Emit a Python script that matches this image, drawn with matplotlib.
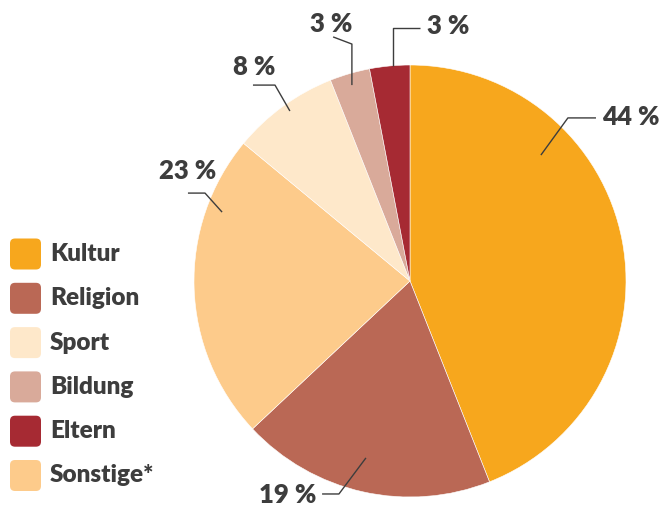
import matplotlib.pyplot as plt
from matplotlib.patches import FancyBboxPatch

# ── data ──
categories = ["Kultur", "Religion", "Sonstige*", "Sport", "Bildung", "Eltern"]
shares = [44, 19, 23, 8, 3, 3]
colors = ["#F7A71D", "#BA6855", "#FDCB8B", "#FEE8CA", "#D9AA9A", "#A62A33"]
legend_order = ["Kultur", "Religion", "Sport", "Bildung", "Eltern", "Sonstige*"]

TXT = "#3d3d3d"
plt.rcParams["font.family"] = ["Lato", "DejaVu Sans"]

W, H = 663, 509
CX, CY, R = 410, 281, 216  # pie centre / radius in pixels

fig = plt.figure(figsize=(W / 100, H / 100), dpi=100)
ax = fig.add_axes([0, 0, 1, 1])
ax.axis("off")

ax.pie(shares, colors=colors, startangle=90, counterclock=False, radius=1,
       wedgeprops=dict(linewidth=0.4, edgecolor="white"))
ax.set_xlim(-CX / R, (W - CX) / R)
ax.set_ylim(-(H - CY) / R, CY / R)
ax.set_aspect("auto")

# leader lines: anchor, elbow, end (pie units) + text position / alignment
leaders = {
    "Kultur": ([(0.606, 0.583), (0.731, 0.755), (0.861, 0.755)], (0.89, 0.76), "left"),
    "Religion": ([(-0.204, -0.819), (-0.329, -0.986), (-0.407, -0.986)], (-0.435, -0.99), "right"),
    "Sonstige*": ([(-0.870, 0.319), (-0.949, 0.407), (-1.028, 0.407)], (-1.03, 0.51), "center"),
    "Sport": ([(-0.556, 0.787), (-0.625, 0.907), (-0.727, 0.907)], (-0.72, 0.99), "center"),
    "Bildung": ([(-0.269, 0.907), (-0.269, 1.097), (-0.356, 1.13)], (-0.365, 1.19), "center"),
    "Eltern": ([(-0.079, 0.995), (-0.079, 1.171), (0.046, 1.171)], (0.08, 1.18), "left"),
}
for cat, val in zip(categories, shares):
    pts, (tx, ty), ha = leaders[cat]
    ax.plot([p[0] for p in pts], [p[1] for p in pts], color=TXT, lw=1.0,
            solid_capstyle="butt")
    ax.text(tx, ty, f"{val} %", ha=ha, va="center", fontsize=18.5,
            fontweight="heavy", color=TXT)

# legend with rounded swatches
color_of = dict(zip(categories, colors))
for i, cat in enumerate(legend_order):
    yc = 254 + i * 44.3
    x0 = (10 - CX) / R
    y0 = (CY - yc - 15.5) / R
    s = 31 / R
    ax.add_patch(FancyBboxPatch((x0, y0), s, s,
                                boxstyle=f"round,pad=0,rounding_size={5 / R}",
                                fc=color_of[cat], ec="none"))
    ax.text((50 - CX) / R, (CY - yc) / R, cat, ha="left", va="center",
            fontsize=17.5, fontweight="heavy", color=TXT)

fig.savefig("out.png", dpi=100)
